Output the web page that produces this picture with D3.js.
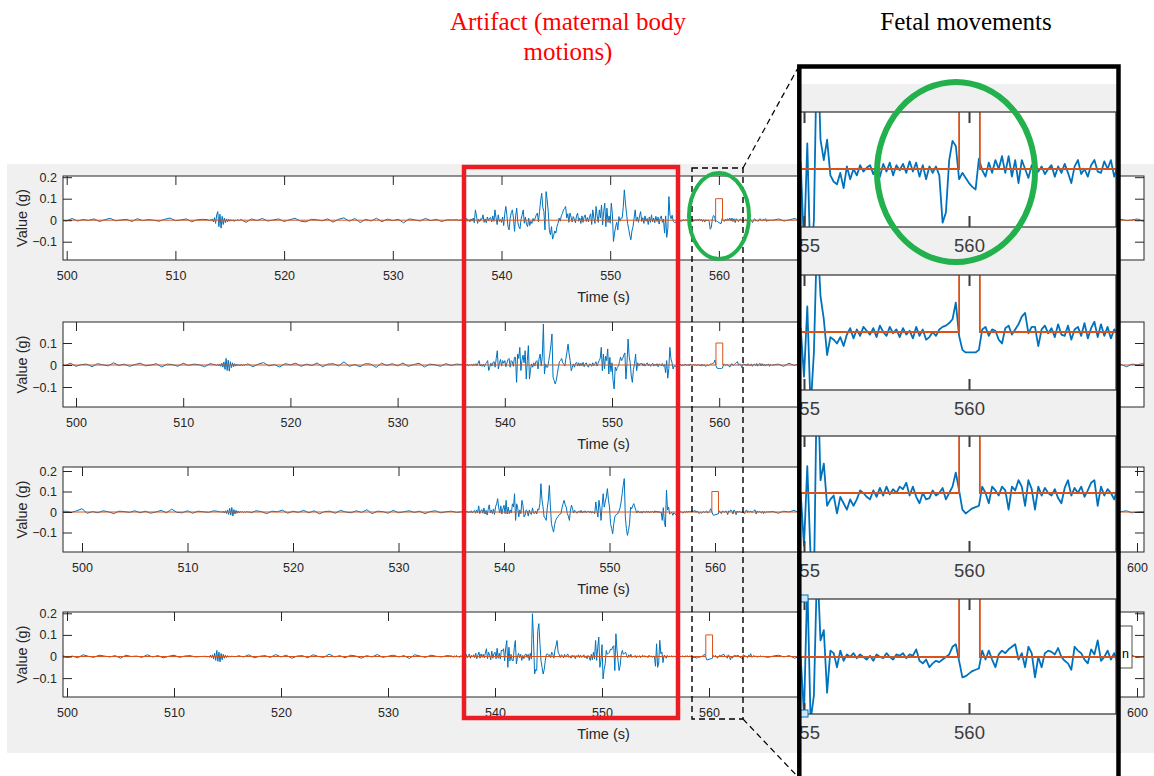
<!DOCTYPE html>
<html><head><meta charset="utf-8">
<script src="https://cdn.jsdelivr.net/npm/d3@7"></script>
<style>html,body{margin:0;padding:0;background:#fff;overflow:hidden}</style>
</head><body>
<script>
// ================= DATA =================
const xTickValues = [500,510,520,530,540,550,560,570,580,590,600];
const yTickValues = [-0.1,0,0.1,0.2];
const insetTickValues = [555,560];
const yLabel = "Value (g)";
const xLabel = "Time (s)";
const artifactTitle = ["Artifact (maternal body","motions)"];
const fetalTitle = "Fetal movements";
// detection pulse (orange trace), seconds / g
const pulseT = [497,559.7,559.7,560.33,560.33,602];
const pulseV = [0,0,0.1,0.1,0,0];
const segStarts = [498,513,516,536,555,565.5];
const segSteps  = [0.5,0.1,0.5,0.1,0.1,0.5];

const ch1_a = [2,-4,6,0,-3,8,-4,3,-1,6, -6,2,9,-3,1,4,-6,7,-2,3, 0,-5,4,10,-2,1,6,-7,2,4];
const ch1_b = [2,-3,3,-2,6,-8,12,-15,25,40, -30,28,-37,18,-20,10,-12,6,-8,4, -5,3,-4,2,-6,1,-2,3,0,-1];
const ch1_c = [4,-10,6,-2,8,-4,1,6,-6,2, 9,-4,-8,4,2,-3,6,-9,4,11, -5,8,-11,4,-4,9,-7,5,-2,4, -12,6,2,-4,8,-2,4,-6,2,1];
const ch1_d = [2,-3,4,-2,5,-4,3,-6,8,-5, 3,-8,6,-4,10,-12,48,20,-15,5, -6,8,4,25,-10,6,-12,15,-4,10,
  12,-8,20,-5,48,10,-20,25,-6,3, -10,15,-25,30,64,20,-30,-45,10,35, 48,10,-52,20,56,-10,-30,-40,5,25,
  48,-14,15,-20,-30,10,-25,-5,-15,8, -5,10,25,33,-8,40,90,125,60,40, -45,133,95,40,-45,-68,-30,-88,-70,-50,
  -60,-30,-15,10,-5,20,30,48,55,64, 10,30,-10,33,15,-8,17,5,-12,20, 33,-5,10,-15,20,-10,15,25,-6,12,
  -8,15,30,-20,48,10,-15,64,20,-10, 48,10,71,-22,40,79,-30,56,-10,20, -14,79,30,-99,-60,-30,-10,-45,17,-5,
  10,10,60,141,80,33,-14,-40,-70,-91, -50,-30,10,48,-5,15,-10,20,40,-6, 12,-15,20,-5,8,-20,15,-10,25,-8,
  10,-12,18,-6,14,-18,8,20,-10,5];
const ch1_e = [-60,20,-80,-40,110,23,7,23,-5,-10, -12,-3,-15,2,-8,0,-5,3,-2,1, 3,-4,2,-6,4,-2,5,-5,3,-1,
  4,-3,6,-2,5,-6,3,-8,2,-3, 2,-5,-42,-34,7,22,18,-8,-3,-7, -11,-14,-16,8,-1,-6,5,-3,7,0,
  10,-3,10,-6,7,-11,7,0,-7,3, 5,-2,2,-4,0,3,-6,2,-3,4, -3,-11,2,7,-4,0,-6,3,7,-2, -3,6,0,7,-6,2,-4,3,-2,1,0];
const ch1_f = [6,-4,2,8,-6,4,-2,1,6,-8, 4,2,-4,6,0,-6,4,8,-2,2, -4,6,-8,1,4,-2,6,-4,2,8, -6,1,4,-2,2,-6,4,0,8,-4,
  2,-2,6,-4,1,4,-8,2,6,-2, 4,-6,0,2,-4,8,-2,4,1,-6, 6,2,-4,4,-2,1,6,-4,2,-2, 4,0];

const ch2_a = [-4,6,-2,8,-6,2,4,-8,6,1, -4,10,-2,4,-6,2,8,-4,0,6, -9,4,2,-6,8,-2,4,1,-8,6];
const ch2_b = [1,-2,3,-4,5,-6,8,-10,14,-20, 30,-25,22,-28,15,-12,10,-8,6,-5, 4,-3,2,-4,3,-2,1,-1,2,0];
const ch2_c = [6,-8,4,11,-4,2,-9,6,1,8, -6,4,-2,9,-8,4,6,-4,14,-6, 2,-8,6,4,-11,8,-2,6,-4,9, -6,2,8,-9,4,1,-6,6,-2,4];
const ch2_d = [2,-3,1,4,-2,3,-5,2,-1,3, -4,5,-2,6,-3,8,20,-5,3,-6, 4,-8,6,10,20,-25,-10,8,-5,12,
  15,-10,30,65,-18,10,25,-5,20,8, 20,-8,10,25,30,-10,20,15,-6,35, 35,-79,50,30,80,-25,20,45,10,65,
  -64,20,88,-64,-20,5,-10,10,-5,15, 20,-18,30,50,-5,40,186,-41,5,-10, -10,20,50,90,141,-56,-70,-86,-71,-40,
  -10,15,20,30,10,5,-5,30,60,95, 50,20,-26,-10,5,-10,8,12,-5,10, -5,8,-3,12,-8,5,10,-4,-10,5,
  4,-6,10,-3,6,15,-5,8,20,30, 80,-26,50,-18,40,20,73,-41,35,-30, 10,-71,-109,-10,-26,-10,-5,15,36,20,
  30,45,55,-64,10,118,40,10,-50,-79, -20,5,50,-26,10,-5,6,4,8,-4, 6,-5,4,10,-3,5,-6,3,8,-5,
  4,-3,6,-8,5,2,-4,7,-6,3];
const ch2_e = [-35,20,-60,-16,80,28,10,-18,-4,-6, -9,-4,-11,-2,3,-5,2,-3,4,1, -2,3,-4,5,0,-3,4,-1,2,-4,
  3,-2,1,-5,4,-3,2,-6,-4,0, -3,2,4,5,7,10,23,-3,-14,-16, -16,-16,-16,-14,2,4,-3,2,1,-6,
  -9,3,5,-2,2,6,12,15,-1,4, 4,-11,2,5,-1,3,-4,6,-2,-3, 5,-6,2,4,-3,7,-5,3,8,-4, 6,-3,4,-5,2,-1,5,-6,3,-2,0];
const ch2_f = [4,-6,8,-2,6,-4,1,9,-8,2, 6,-4,-2,8,-6,4,0,-8,6,2, -4,9,-2,4,-6,1,8,-4,6,-2, 2,-8,4,6,-4,1,8,-6,2,4,
  -2,6,-8,0,4,9,-4,2,-6,8, -2,1,4,-6,6,2,-4,8,-2,0, -6,4,6,-2,2,-8,4,1,6,-4, 2,0];

const ch3_a = [1,4,-2,6,16,-6,2,-4,6,1, -8,4,2,-2,6,-4,4,-6,0,8, -4,14,-2,-4,6,-6,4,1,-2,6];
const ch3_b = [2,-1,3,-3,4,-5,6,-8,10,-12, 18,-15,22,-20,12,-10,8,-6,5,-4, 3,-2,2,-3,1,-2,2,0,-1,1];
const ch3_c = [-4,6,2,-8,4,1,9,-6,4,-2, 8,-4,6,-9,2,4,-6,8,0,-4, 6,-2,11,-8,4,2,-6,8,-4,1, 6,-2,4,-8,2,6,-4,1,4,-2];
const ch3_d = [1,-3,2,4,-2,5,-4,2,-3,6, -5,3,8,-6,10,-4,30,-8,5,12, -6,20,-10,8,-15,12,35,-5,10,-8,
  15,-12,25,40,65,20,-5,30,-10,15, 33,-8,57,-10,24,-8,10,-5,40,25, 89,-41,40,20,-24,10,-8,57,30,-24,
  -15,10,5,-20,10,-8,-12,20,-5,-8, 5,-10,15,10,41,138,60,24,-24,-30, -41,20,57,130,24,-57,-80,-98,-60,-41,
  -30,-24,-15,-10,-8,20,41,57,35,24, -8,-20,-41,10,33,15,-5,8,2,-6, 0,5,-3,8,-5,3,-2,6,-4,2,
  4,-3,5,-6,2,-4,-8,49,10,-24, 57,20,-41,30,89,24,50,73,114,60, 24,-57,-80,-106,-60,-24,-15,-10,-8,5,
  20,49,89,130,163,-24,-80,-114,-90,-57, 24,15,30,41,24,8,-5,6,0,-4, 3,-6,4,0,-3,5,-2,4,-5,2,
  0,3,-4,6,-2,5,-3,4,-5,0];
const ch3_e = [-41,21,-50,-73,106,10,23,-10,-5,-2, -16,-3,-8,-13,-5,-10,-5,2,0,-3, -5,2,-3,4,-2,5,-1,3,0,5,
  3,8,-2,5,-3,-8,0,-5,-4,2, -2,0,4,-5,0,5,16,2,-13,-16, -14,-12,-11,-10,5,0,-8,5,2,-2,
  5,2,-13,5,2,10,5,-10,10,3, -13,5,-2,4,0,-2,3,-4,-8,4, 10,-2,4,0,5,-3,2,8,10,-10, 5,-2,3,0,-5,4,-8,2,-3,1,0];
const ch3_f = [2,-6,4,0,8,-4,2,-2,6,-8, 4,1,-4,6,2,-6,8,-2,4,0, -4,6,-2,2,-8,4,1,6,-4,2, -2,8,-6,4,0,-4,6,2,-2,4,
  -6,1,8,-4,2,6,-2,-4,4,0, 6,-8,2,4,-2,1,6,-4,2,-6, 4,8,-2,0,4,-6,2,6,-4,0, 2,-2];

const ch4_a = [-2,4,0,6,-4,2,-6,8,1,-4, 6,2,-2,4,-8,6,0,2,-4,8, -2,4,-6,1,6,-4,2,4,-2,0];
const ch4_b = [1,-3,2,-4,6,-5,8,-12,15,-18, 28,-22,20,-25,14,-15,10,-8,6,-5, 4,-3,2,-2,3,-1,1,-2,1,0];
const ch4_c = [4,-2,8,-6,1,4,-4,9,-2,6, -8,2,4,-6,8,0,-4,11,-2,4, -6,6,2,-8,4,-2,9,-4,1,6, -2,4,-9,8,2,-4,6,1,-2,4];
const ch4_d = [2,-4,3,-1,5,-3,2,-5,4,0, -3,6,-2,10,-6,4,12,-8,5,-2, 8,-5,15,-10,6,20,-8,12,-4,10,
  -6,15,36,-10,20,5,-15,25,-8,12, 20,-10,38,-8,15,-12,30,25,36,-20, 40,74,-50,43,-20,10,-18,-20,40,74,
  -34,-2,15,-5,10,-18,5,-10,8,12, -5,10,-18,15,-12,198,80,-81,-60,-65, 121,152,60,-20,-50,-81,-60,-20,10,12,
  5,8,-5,20,10,-8,30,50,74,20, 10,-5,8,4,-6,10,-3,5,12,-4, 3,-8,6,-2,5,-10,4,-3,8,-5,
  6,-4,2,8,-6,3,-10,5,-3,-18, 10,-15,20,-12,74,-18,40,90,-50,-20, 55,-104,-60,-34,28,10,15,20,35,30,
  45,50,-65,105,30,-20,-65,-40,10,28, 10,15,20,5,-5,8,-3,10,-4,2, -2,5,-6,3,-3,4,-5,2,6,-2,
  4,-3,2,-5,6,-2,3,-4,2,0];
const ch4_e = [-45,59,-50,-30,75,13,21,-28,5,3, -8,5,-3,2,0,3,-1,2,0,-2, 1,-3,2,0,-1,3,0,-2,2,1,
  3,-1,2,1,6,-3,-5,-2,-8,-5, -3,-4,-2,0,2,8,10,-3,-16,-15, -13,-11,-10,-9,5,-2,5,-2,-8,2,
  5,3,6,8,10,-2,3,-8,8,3, -16,0,-8,3,5,4,2,7,0,-3, -5,-10,8,5,3,-2,-5,6,2,13, -3,0,5,-2,3,-4,2,-1,3,0,1];
const ch4_f = [-4,2,6,-2,4,-8,1,6,-4,2, 8,-6,4,0,-2,6,-4,2,-8,4, 1,6,-2,4,-6,2,8,-4,0,2, -6,4,-2,6,1,-4,8,-2,2,-6,
  4,0,6,-4,2,-2,8,-6,1,4, -2,6,-4,2,0,-8,4,6,-2,1, 4,-6,2,8,-4,1,2,-2,6,-4, 0,2];

// ================= BUILD =================
function build(segs){
  const pts = [];
  segs.forEach((vals,k)=>vals.forEach((v,i)=>pts.push({t:+(segStarts[k]+i*segSteps[k]).toFixed(2), v:v/1000})));
  return pts.sort((a,b)=>a.t-b.t);
}
const channels = [
  build([ch1_a,ch1_b,ch1_c,ch1_d,ch1_e,ch1_f]),
  build([ch2_a,ch2_b,ch2_c,ch2_d,ch2_e,ch2_f]),
  build([ch3_a,ch3_b,ch3_c,ch3_d,ch3_e,ch3_f]),
  build([ch4_a,ch4_b,ch4_c,ch4_d,ch4_e,ch4_f])
];
const pulse = pulseT.map((t,i)=>({t, v:pulseV[i]}));

const W = 1154, H = 776;
const BLUE = '#0072BD', ORANGE = '#D95319', AX = '#262626', GREEN = '#22b14c', RED = '#ed1c24', GRAY = '#f0f0f0';
const SANS = "'Liberation Sans', Arial, Helvetica, sans-serif";
const SERIF = "'Liberation Serif', 'Times New Roman', serif";

const svg = d3.select('body').append('svg').attr('width', W).attr('height', H).style('display','block');
const defs = svg.append('defs');
svg.append('rect').attr('x',0).attr('y',0).attr('width',W).attr('height',H).attr('fill','#fff');

// ---------- layout ----------
const mainPanels = [
  {L:63,R:1144,T:176,B:260,x500:66.7,pxs:10.87,y0:220.2,pyg:215},
  {L:63,R:1144,T:322,B:407,x500:76,pxs:10.72,y0:365,pyg:220},
  {L:63,R:1144,T:467,B:552,x500:82,pxs:10.55,y0:512,pyg:205},
  {L:63,R:1144,T:612,B:697,x500:67,pxs:10.70,y0:656.5,pyg:216}
];
const insetPanels = [
  {T:112,B:227,y0:169},
  {T:275,B:390,y0:332},
  {T:436,B:552,y0:493},
  {T:599,B:714,y0:657}
];
const INS = {L:801,R:1116,x555:804,pxs:33,pyg:1278};
const hidden = [790,1125]; // horizontal span covered by the inset

let clipId = 0;
function drawPanel(g, p, xs, ys, data, o){
  const id = 'clip' + (clipId++);
  defs.append('clipPath').attr('id',id).append('rect')
    .attr('x',p.L).attr('y',p.T).attr('width',p.R-p.L).attr('height',p.B-p.T);
  g.append('rect').attr('x',p.L).attr('y',p.T).attr('width',p.R-p.L).attr('height',p.B-p.T).attr('fill','#fff');
  const line = d3.line().x(d=>xs(d.t)).y(d=>ys(d.v));
  const cg = g.append('g').attr('clip-path',`url(#${id})`);
  cg.append('path').datum(data).attr('d',line).attr('fill','none').attr('stroke',BLUE)
    .attr('stroke-width',o.lw).attr('stroke-linejoin','round');
  cg.append('path').datum(pulse).attr('d',line).attr('fill','none').attr('stroke',ORANGE)
    .attr('stroke-width',o.lw);
  const xt = o.xticks.filter(t=>t>=xs.domain()[0] && t<=xs.domain()[1]);
  const yt = yTickValues.filter(t=>t>=ys.domain()[0] && t<=ys.domain()[1]);
  const style = sel => {
    sel.select('.domain').remove();
    sel.selectAll('line').attr('stroke',o.axc).attr('stroke-width',o.tw);
    sel.selectAll('text').attr('fill',o.axc).attr('font-family',SANS).attr('font-size',o.fs);
  };
  const fmt = d => (o.hide && xs(d)>o.hide[0] && xs(d)<o.hide[1]) ? '' : d3.format('d')(d);
  g.append('g').attr('transform',`translate(0,${p.B})`)
    .call(d3.axisBottom(xs).tickValues(xt).tickSizeInner(-o.tk).tickSizeOuter(0).tickPadding(o.pad).tickFormat(fmt)).call(style);
  g.append('g').attr('transform',`translate(0,${p.T})`)
    .call(d3.axisTop(xs).tickValues(xt).tickSizeInner(-o.tk).tickSizeOuter(0).tickFormat('')).call(style);
  if (o.yaxis){
    g.append('g').attr('transform',`translate(${p.L},0)`)
      .call(d3.axisLeft(ys).tickValues(yt).tickSizeInner(-o.tk).tickSizeOuter(0).tickPadding(6).tickFormat(d=>d3.format('')(+d.toFixed(1)))).call(style);
    g.append('g').attr('transform',`translate(${p.R},0)`)
      .call(d3.axisRight(ys).tickValues(yt).tickSizeInner(-o.tk).tickSizeOuter(0).tickFormat('')).call(style);
  }
  g.append('rect').attr('x',p.L).attr('y',p.T).attr('width',p.R-p.L).attr('height',p.B-p.T)
    .attr('fill','none').attr('stroke',o.axc).attr('stroke-width',o.bw);
}

// ---------- main figure ----------
svg.append('rect').attr('x',7).attr('y',164).attr('width',W-7).attr('height',589).attr('fill',GRAY);
const mainG = svg.append('g');
mainPanels.forEach((p,i)=>{
  const xs = d3.scaleLinear().domain([500-(p.x500-p.L)/p.pxs, 500+(p.R-p.x500)/p.pxs]).range([p.L,p.R]);
  const ys = d3.scaleLinear().domain([-(p.B-p.y0)/p.pyg, (p.y0-p.T)/p.pyg]).range([p.B,p.T]);
  const g = mainG.append('g');
  drawPanel(g, p, xs, ys, channels[i], {lw:1, tk:9, tw:1, bw:1, fs:12.5, pad:11.5, axc:AX, xticks:xTickValues, yaxis:true, hide:hidden});
  g.append('text').attr('x',(p.L+p.R)/2).attr('y',p.B+37).attr('dominant-baseline','central')
    .attr('text-anchor','middle').attr('font-family',SANS).attr('font-size',14.5).attr('fill',AX).text(xLabel);
  g.append('text').attr('transform',`translate(22,${(p.T+p.B)/2}) rotate(-90)`).attr('dominant-baseline','central')
    .attr('text-anchor','middle').attr('font-family',SANS).attr('font-size',14.5).attr('fill',AX).text(yLabel);
});

// legend fragment at the right of the last panel
svg.append('rect').attr('x',1070).attr('y',626).attr('width',62).attr('height',42).attr('fill','#fff').attr('stroke',AX).attr('stroke-width',0.8);
svg.append('text').attr('x',1122).attr('y',658).attr('font-family',SANS).attr('font-size',12.5).attr('fill','#000').text('n');

// ---------- annotations ----------
svg.append('rect').attr('x',464).attr('y',167).attr('width',214).attr('height',551)
  .attr('fill','none').attr('stroke',RED).attr('stroke-width',4.5);
svg.append('rect').attr('x',692).attr('y',168).attr('width',51).attr('height',551)
  .attr('fill','none').attr('stroke','#000').attr('stroke-width',1.4).attr('stroke-dasharray','6,4');
svg.append('line').attr('x1',743).attr('y1',168).attr('x2',799).attr('y2',66)
  .attr('stroke','#000').attr('stroke-width',1.2).attr('stroke-dasharray','6,4');
svg.append('line').attr('x1',743).attr('y1',719).attr('x2',799).attr('y2',778)
  .attr('stroke','#000').attr('stroke-width',1.2).attr('stroke-dasharray','6,4');
svg.append('ellipse').attr('cx',719).attr('cy',216).attr('rx',30).attr('ry',43)
  .attr('fill','none').attr('stroke',GREEN).attr('stroke-width',4);

// ---------- inset (zoom on 555-565 s) ----------
defs.append('clipPath').attr('id','insetClip').append('rect').attr('x',801).attr('y',60).attr('width',316).attr('height',720);
const insG = svg.append('g').attr('clip-path','url(#insetClip)');
insG.append('rect').attr('x',797).attr('y',64).attr('width',324).attr('height',H-64).attr('fill','#fff');
insG.append('rect').attr('x',801).attr('y',84).attr('width',316).attr('height',669).attr('fill',GRAY);
const xi = d3.scaleLinear().domain([555-(INS.x555-INS.L)/INS.pxs, 555+(INS.R-INS.x555)/INS.pxs]).range([INS.L,INS.R]);
insetPanels.forEach((q,i)=>{
  const p = {L:INS.L-2, R:INS.R, T:q.T, B:q.B};
  const xs = d3.scaleLinear().domain([xi.invert(p.L), xi.invert(p.R)]).range([p.L,p.R]);
  const ys = d3.scaleLinear().domain([-(q.B-q.y0)/INS.pyg, (q.y0-q.T)/INS.pyg]).range([q.B,q.T]);
  drawPanel(insG.append('g'), p, xs, ys, channels[i], {lw:1.8, tk:11, tw:2, bw:1.3, fs:18.5, pad:11.5, axc:'#3c3c3c', xticks:insetTickValues, yaxis:false});
});
// data-tip markers in the last inset panel
[599,714].forEach(y=>insG.append('rect').attr('x',800).attr('y',y-4).attr('width',8).attr('height',7)
  .attr('fill','#cfe6fa').attr('stroke',BLUE).attr('stroke-width',1));
insG.append('ellipse').attr('cx',956).attr('cy',172).attr('rx',79).attr('ry',90)
  .attr('fill','none').attr('stroke',GREEN).attr('stroke-width',6);
// thick frame
svg.append('path').attr('d','M799.3,780 V66.5 H1118.5 V780').attr('fill','none').attr('stroke','#000').attr('stroke-width',4.5);

// ---------- titles ----------
artifactTitle.forEach((s,i)=>svg.append('text').attr('x',568).attr('y',30+i*30).attr('text-anchor','middle')
  .attr('font-family',SERIF).attr('font-size',25).attr('fill','#ff0000').text(s));
svg.append('text').attr('x',966).attr('y',30).attr('text-anchor','middle')
  .attr('font-family',SERIF).attr('font-size',25).attr('fill','#000').text(fetalTitle);
</script>
</body></html>
